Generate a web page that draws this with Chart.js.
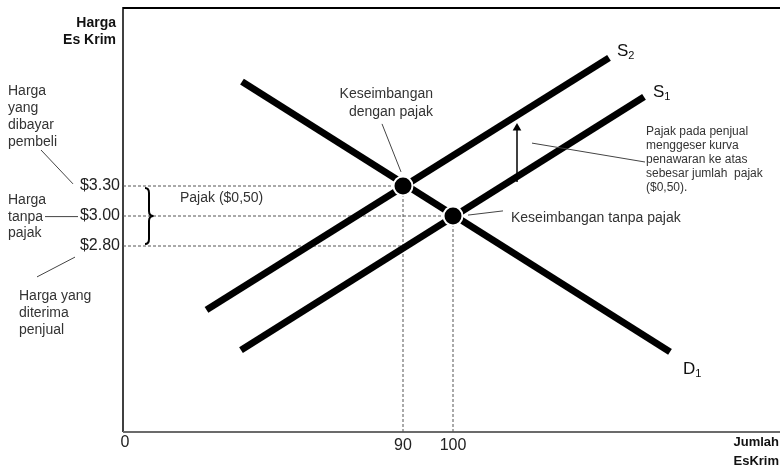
<!DOCTYPE html>
<html><head><meta charset="utf-8">
<script src="https://cdn.jsdelivr.net/npm/chart.js@4"></script>
<style>html,body{margin:0;padding:0;background:#fff}#wrap{width:780px;height:467px}</style>
</head><body><div id="wrap"><canvas id="c" width="780" height="467"></canvas></div>
<script>
// Schematic diagram units (x: quantity axis, y: price axis)
const quantityTickLabels = ["0", "90", "100"];
const quantityTickValues = [0, 56, 66];
const priceTickLabels = ["$3.30", "$3.00", "$2.80"];
const priceTickValues = [82, 72, 62];
const demandD1 = [{x: 23.8, y: 116.8}, {x: 109.4, y: 26.7}];
const supplyS1 = [{x: 23.6, y: 27.3}, {x: 104.2, y: 111.7}];
const supplyS2 = [{x: 16.7, y: 40.7}, {x: 97.2, y: 124.7}];
const equilibriumWithTax = {x: 56, y: 82};
const equilibriumNoTax = {x: 66, y: 72};
const taxShiftArrow = [{x: 78.8, y: 83.3}, {x: 78.8, y: 101.3}];
const leaderLines = [
  [{x: 51.8, y: 102.7}, {x: 55.6, y: 86.7}],
  [{x: 69, y: 72.3}, {x: 76, y: 73.7}],
  [{x: 81.8, y: 96.3}, {x: 104.4, y: 90}],
  [{x: -16.4, y: 94}, {x: -10, y: 82.7}],
  [{x: -15.6, y: 71.8}, {x: -9, y: 71.8}],
  [{x: -17.2, y: 51.7}, {x: -9.6, y: 58.3}]
];

const FONT = '"Liberation Sans", Arial, sans-serif';
const guide = (pts) => ({data: pts, borderColor: '#555', borderWidth: 1, borderDash: [3, 2], pointRadius: 0, order: 3});
const datasets = [
  guide([{x: 0, y: priceTickValues[0]}, {x: equilibriumWithTax.x, y: priceTickValues[0]}]),
  guide([{x: 0, y: priceTickValues[1]}, {x: equilibriumNoTax.x, y: priceTickValues[1]}]),
  guide([{x: 0, y: priceTickValues[2]}, {x: equilibriumWithTax.x, y: priceTickValues[2]}]),
  guide([{x: quantityTickValues[1], y: 0}, {x: quantityTickValues[1], y: equilibriumWithTax.y}]),
  guide([{x: quantityTickValues[2], y: 0}, {x: quantityTickValues[2], y: equilibriumNoTax.y}]),
  {data: demandD1, borderColor: '#000', borderWidth: 7, borderCapStyle: 'butt', pointRadius: 0, order: 2},
  {data: supplyS1, borderColor: '#000', borderWidth: 7, borderCapStyle: 'butt', pointRadius: 0, order: 2},
  {data: supplyS2, borderColor: '#000', borderWidth: 7, borderCapStyle: 'butt', pointRadius: 0, order: 2},
  {data: taxShiftArrow, borderColor: '#000', borderWidth: 1.5, pointRadius: [0, 5], pointStyle: 'triangle',
   pointBackgroundColor: '#000', pointBorderColor: '#000', pointBorderWidth: 0, order: 1},
  {data: [equilibriumWithTax, equilibriumNoTax], showLine: false, pointRadius: 9.5, pointBackgroundColor: '#000',
   pointBorderColor: '#fff', pointBorderWidth: 2, order: 0}
];
leaderLines.forEach(l => datasets.push({data: l, borderColor: '#444', borderWidth: 1, pointRadius: 0, clip: false, order: 1}));

const texts = [
  // [text, x(px), y(px), align, font]
  ['Harga', 116, 23, 'right', 'bold 14px'],
  ['Es Krim', 116, 40, 'right', 'bold 14px'],
  ['Harga', 8, 91, 'left', '14px'], ['yang', 8, 108, 'left', '14px'],
  ['dibayar', 8, 125, 'left', '14px'], ['pembeli', 8, 142, 'left', '14px'],
  ['Harga', 8, 200, 'left', '14px'], ['tanpa', 8, 217, 'left', '14px'], ['pajak', 8, 233, 'left', '14px'],
  ['Harga yang', 19, 296, 'left', '14px'], ['diterima', 19, 313, 'left', '14px'], ['penjual', 19, 330, 'left', '14px'],
  ['Pajak ($0,50)', 180, 198, 'left', '14px'],
  ['Keseimbangan', 433, 94, 'right', '14px'], ['dengan pajak', 433, 112, 'right', '14px'],
  ['Keseimbangan tanpa pajak', 511, 218, 'left', '14px'],
  ['Pajak pada penjual', 646, 132, 'left', '12px'], ['menggeser kurva', 646, 146, 'left', '12px'],
  ['penawaran ke atas', 646, 160, 'left', '12px'], ['sebesar jumlah  pajak', 646, 174, 'left', '12px'],
  ['($0,50).', 646, 188, 'left', '12px'],
  ['Jumlah', 779, 442, 'right', 'bold 13px'], ['EsKrim', 779, 461, 'right', 'bold 13px']
];

const diagramPlugin = {
  id: 'diagram',
  beforeDatasetsDraw(chart) {
    const {ctx, chartArea: a} = chart;
    ctx.save();
    ctx.strokeStyle = '#000'; ctx.lineWidth = 2;
    ctx.beginPath(); ctx.moveTo(a.left, a.top + 1); ctx.lineTo(a.right, a.top + 1); ctx.stroke();
    ctx.lineWidth = 1.5;
    ctx.beginPath(); ctx.moveTo(a.left, a.top); ctx.lineTo(a.left, a.bottom); ctx.stroke();
    ctx.strokeStyle = '#6b6b6b'; ctx.lineWidth = 2;
    ctx.beginPath(); ctx.moveTo(a.left, a.bottom); ctx.lineTo(a.right, a.bottom); ctx.stroke();
    ctx.restore();
  },
  afterDraw(chart) {
    const {ctx, scales: {x, y}} = chart;
    ctx.save();
    ctx.textBaseline = 'middle';
    // price tick labels
    ctx.fillStyle = '#222'; ctx.font = '16px ' + FONT; ctx.textAlign = 'right';
    priceTickLabels.forEach((t, i) => ctx.fillText(t, x.getPixelForValue(-0.6), y.getPixelForValue(priceTickValues[i])));
    // quantity tick labels
    ctx.textAlign = 'center';
    quantityTickLabels.forEach((t, i) => {
      const px = x.getPixelForValue(quantityTickValues[i]) + (i === 0 ? 2 : 0);
      ctx.fillText(t, px, y.getPixelForValue(0) + (i === 0 ? 11 : 14));
    });
    // annotations
    texts.forEach(([t, px, py, al, f]) => {
      ctx.font = f + ' ' + FONT; ctx.textAlign = al;
      ctx.fillStyle = f.startsWith('bold') ? '#111' : '#333';
      ctx.fillText(t, px, py);
    });
    // curve labels with subscripts
    const sub = (m, s, px, py) => {
      ctx.textAlign = 'left'; ctx.fillStyle = '#111';
      ctx.font = '17px ' + FONT; ctx.fillText(m, px, py);
      const w = ctx.measureText(m).width;
      ctx.font = '11px ' + FONT; ctx.fillText(s, px + w, py + 5);
    };
    sub('S', '2', 617, 51);
    sub('S', '1', 653, 92);
    sub('D', '1', 683, 369);
    // brace for the tax
    const yTop = y.getPixelForValue(priceTickValues[0]) + 2;
    const yMid = y.getPixelForValue(priceTickValues[1]);
    const yBot = y.getPixelForValue(priceTickValues[2]) - 2;
    const xl = x.getPixelForValue(4.4), xm = x.getPixelForValue(5.2), xr = x.getPixelForValue(6.1);
    ctx.strokeStyle = '#000'; ctx.lineWidth = 2;
    ctx.beginPath();
    ctx.moveTo(xl, yTop);
    ctx.quadraticCurveTo(xm, yTop, xm, yTop + 5);
    ctx.lineTo(xm, yMid - 5);
    ctx.quadraticCurveTo(xm, yMid, xr, yMid);
    ctx.quadraticCurveTo(xm, yMid, xm, yMid + 5);
    ctx.lineTo(xm, yBot - 5);
    ctx.quadraticCurveTo(xm, yBot, xl, yBot);
    ctx.stroke();
    ctx.restore();
  }
};

new Chart(document.getElementById('c'), {
  type: 'line',
  data: {datasets},
  options: {
    responsive: false, animation: false,
    layout: {autoPadding: false, padding: {left: 123, top: 7, right: 0, bottom: 35}},
    scales: {
      x: {type: 'linear', min: 0, max: 131.4, display: false},
      y: {type: 'linear', min: 0, max: 141.667, display: false}
    },
    plugins: {legend: {display: false}, tooltip: {enabled: false}},
    elements: {line: {tension: 0}}
  },
  plugins: [diagramPlugin]
});
</script></body></html>
